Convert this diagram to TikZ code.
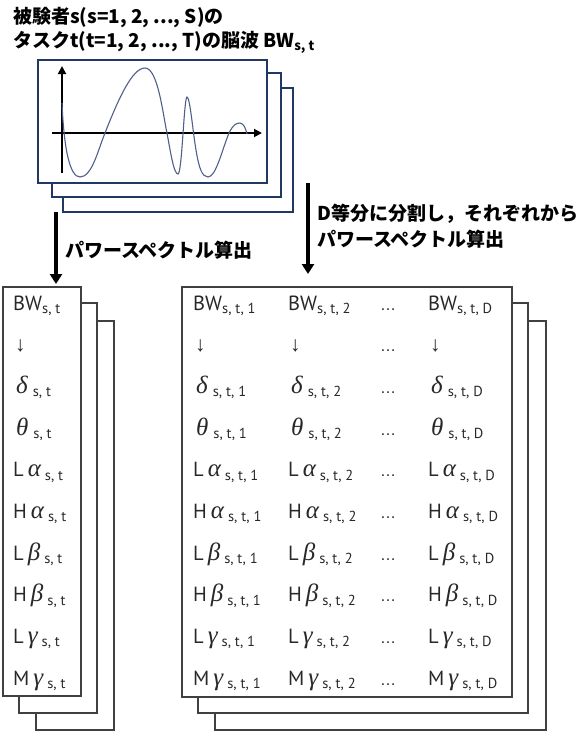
\documentclass[tikz,border=0pt]{standalone}
\usepackage{fontspec}
\usetikzlibrary{arrows.meta}
\newfontfamily\lat{PT Sans}
\newfontfamily\sym{Liberation Sans}
\newfontfamily\grk{Liberation Serif}
\newfontfamily\jp{Noto Sans CJK JP}
\definecolor{navy}{RGB}{31,56,100}
\definecolor{wave}{RGB}{80,96,140}
\definecolor{boxgray}{RGB}{64,64,64}
\definecolor{txt}{RGB}{40,40,40}
\newcommand\mysub[1]{\raisebox{-3.5pt}{\fontsize{14.5}{15}\selectfont #1}}
\newcommand\gk[1]{{\grk\itshape\fontsize{25}{26}\selectfont #1}}
\begin{document}
\begin{tikzpicture}[x=1pt,y=-1pt,
  wbox/.style={draw=navy,line width=1.4pt,fill=white},
  gbox/.style={draw=boxgray,line width=1.2pt,fill=white},
  cell/.style={anchor=base west,inner sep=0pt,text=txt,font=\lat\fontsize{20.5}{22}\selectfont},
  dots/.style={anchor=base,inner sep=0pt,text=txt,font=\sym\fontsize{16}{20}\selectfont},
  jlabel/.style={anchor=base west,inner sep=0pt,font=\jp\bfseries\fontsize{19}{22}\selectfont},
  bigarrow/.style={line width=4pt,-{Triangle[width=12pt,length=10pt]}},
  axis/.style={line width=1.8pt,-{Triangle[width=8pt,length=8pt]}}]
\useasboundingbox (0,0) rectangle (586,731);
% title
\node[jlabel] (t1) at (13,23) {被験者s(s=1, 2, ..., S)の};
\node[jlabel] (t2) at (13,47) {タスクt(t=1, 2, ..., T)の脳波 BW\raisebox{-3pt}{\fontsize{13}{14}\selectfont s, t}};
% wave boxes
\draw[wbox] (63,88) rectangle (293,212);
\draw[wbox] (52,73) rectangle (281,197);
\draw[wbox] (38,60) rectangle (267,183);
\coordinate (ay0) at (62,173); \coordinate (ay1) at (62,66);
\coordinate (ax0) at (52,133); \coordinate (ax1) at (262,133);
\draw[axis] (ay0) -- (ay1);
\draw[axis] (ax0) -- (ax1);
\draw[wave,line width=1.1pt] (62,103) .. controls (64,150) and (70,177) .. (80,177)
  .. controls (92,177) and (98,150) .. (105,133)
  .. controls (118,100) and (132,68) .. (145,68)
  .. controls (158,68) and (163,115) .. (167,133)
  .. controls (171,155) and (174,174) .. (178,174)
  .. controls (182,174) and (184,97) .. (187,97)
  .. controls (190,97) and (193,133) .. (196,150)
  .. controls (199,168) and (202,177) .. (208,177)
  .. controls (216,177) and (222,150) .. (229,133)
  .. controls (233,125) and (236,123) .. (240,123)
  .. controls (244,123) and (246,130) .. (247,134);
% arrows
\coordinate (la0) at (56,212); \coordinate (la1) at (56,284);
\coordinate (ra0) at (308,183); \coordinate (ra1) at (308,274);
\draw[bigarrow] (la0) -- (la1);
\draw[bigarrow] (ra0) -- (ra1);
\node[jlabel] (ll) at (65,257) {パワースペクトル算出};
\node[jlabel] (rl1) at (317,220) {D等分に分割し，それぞれから};
\node[jlabel] (rl2) at (317,246) {パワースペクトル算出};
% left boxes
\draw[gbox] (36,321) rectangle (114,730);
\draw[gbox] (19,303) rectangle (97,713);
\draw[gbox] (3,287) rectangle (81,696);
% right boxes
\draw[gbox] (215,321) rectangle (546,730);
\draw[gbox] (198,303) rectangle (528,713);
\draw[gbox] (182,287) rectangle (512,697);
% rows
\def\rowy#1{310+41.67*#1}
\foreach \x/\s/\nm in {13/{s,\ t}/a,193/{s,\ t,\ 1}/b,288/{s,\ t,\ 2}/c,428/{s,\ t,\ D}/d}{
  \node[cell] (\nm0) at (\x,{\rowy{0}}) {BW\mysub{\s}};
  \node[cell,font=\sym\fontsize{21}{22}\selectfont] (\nm1) at (\x+2,{\rowy{1}}) {↓};
  \node[cell] (\nm2) at (\x+3,{\rowy{2}}) {\gk{δ}\hspace{5pt}\mysub{\s}};
  \node[cell] (\nm3) at (\x+3,{\rowy{3}}) {\gk{θ}\hspace{5pt}\mysub{\s}};
  \node[cell] (\nm4) at (\x,{\rowy{4}}) {L\hspace{4pt}\gk{α}\hspace{4pt}\mysub{\s}};
  \node[cell] (\nm5) at (\x,{\rowy{5}}) {H\hspace{4pt}\gk{α}\hspace{4pt}\mysub{\s}};
  \node[cell] (\nm6) at (\x,{\rowy{6}}) {L\hspace{4pt}\gk{β}\hspace{4pt}\mysub{\s}};
  \node[cell] (\nm7) at (\x,{\rowy{7}}) {H\hspace{4pt}\gk{β}\hspace{4pt}\mysub{\s}};
  \node[cell] (\nm8) at (\x,{\rowy{8}}) {L\hspace{4pt}\gk{γ}\hspace{4pt}\mysub{\s}};
  \node[cell] (\nm9) at (\x,{\rowy{9}}) {M\hspace{4pt}\gk{γ}\hspace{4pt}\mysub{\s}};
}
\foreach \i in {0,...,9}{
  \node[dots] (e\i) at (388,{\rowy{\i}}) {…};
}
\end{tikzpicture}
\end{document}
